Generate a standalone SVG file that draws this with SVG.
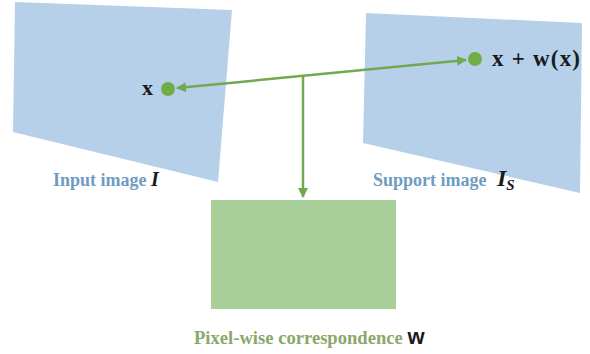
<svg xmlns="http://www.w3.org/2000/svg" width="590" height="354" viewBox="0 0 590 354">
<style>
.img{fill:#b6d0ea}
.lbl{font-family:"Liberation Serif","Times New Roman",serif;font-weight:bold;font-size:18px}
.blue{fill:#6f9cc2}
.olive{fill:#8aa86a}
.blk{fill:#1a1a1a}
.conn{stroke:#72a94f;stroke-width:2.5;fill:none}
.dot{fill:#70ad47}
</style>
<defs>
<marker id="ah" viewBox="0 0 10 10" refX="9" refY="5" markerWidth="4" markerHeight="4" orient="auto-start-reverse" markerUnits="strokeWidth">
<path d="M0,0 L10,5 L0,10 z" fill="#72a94f"/>
</marker>
</defs>
<rect width="590" height="354" fill="#ffffff"/>
<g id="input-image">
<polygon class="img" points="15,2 232,10 218,182 13,132"/>
<text class="lbl blue" x="53" y="186">Input image <tspan class="blk" style="font-style:italic;font-size:20px">I</tspan></text>
</g>
<g id="support-image">
<polygon class="img" points="366,13 582,23 580,193 363,143"/>
<text class="lbl blue" x="373" y="186">Support image <tspan class="blk" style="font-style:italic;font-size:24px" dx="6">I</tspan><tspan class="blk" style="font-style:italic;font-size:15px" dy="4">S</tspan></text>
</g>
<g id="correspondence">
<rect x="211" y="200" width="185" height="109" fill="#a9d09a"/>
<text class="lbl olive" x="194" y="344" style="font-size:18.6px">Pixel-wise correspondence <tspan class="blk" style="font-family:'Liberation Sans',sans-serif;font-size:22px">w</tspan></text>
</g>
<g id="point-x">
<circle class="dot" cx="168" cy="89" r="7"/>
<text class="lbl blk" x="142" y="95" style="font-size:22px">x</text>
</g>
<g id="point-xw">
<circle class="dot" cx="475" cy="59" r="7"/>
<text class="lbl blk" x="492" y="66" style="font-size:23px" textLength="88" lengthAdjust="spacing">x + w(x)</text>
</g>
<g id="connectors">
<line class="conn" x1="177" y1="88.1" x2="466" y2="59.9" marker-start="url(#ah)" marker-end="url(#ah)"/>
<line class="conn" x1="303" y1="75.5" x2="303" y2="197" marker-end="url(#ah)"/>
</g>
</svg>
